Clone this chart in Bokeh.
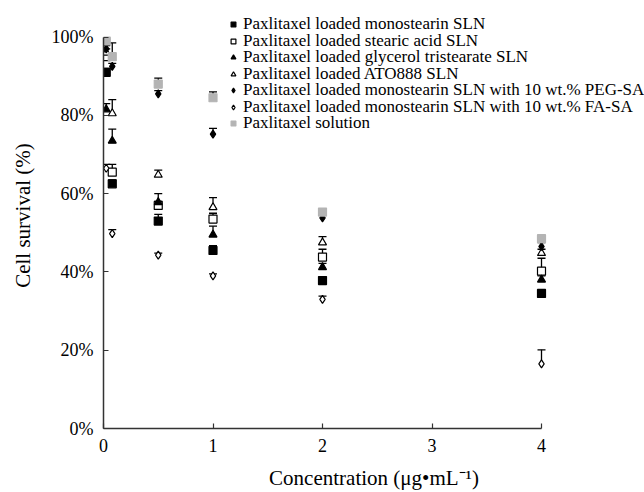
from bokeh.plotting import figure
from bokeh.models import (Range1d, FixedTicker, PrintfTickFormatter, Legend, LegendItem,
                          Whisker, TeeHead, ColumnDataSource)
from bokeh.embed import file_html
from bokeh.resources import INLINE

# ---- data ----
concentration = [0.025, 0.08, 0.5, 1, 2, 4]
x_ticks = [0, 1, 2, 3, 4]
y_ticks = [0, 20, 40, 60, 80, 100]

series_names = [
    "Paxlitaxel loaded monostearin SLN",
    "Paxlitaxel loaded stearic acid SLN",
    "Paxlitaxel loaded glycerol tristearate SLN",
    "Paxlitaxel loaded ATO888 SLN",
    "Paxlitaxel loaded monostearin SLN with 10 wt.% PEG-SA",
    "Paxlitaxel loaded monostearin SLN with 10 wt.% FA-SA",
    "Paxlitaxel solution",
]

monostearin = [91.0, 62.5, 53.0, 45.5, 37.8, 34.5]
monostearin_err = [1.0, 1.0, 1.7, 1.2, 0.8, 0.8]
stearic_acid = [95.0, 65.5, 57.0, 53.5, 43.8, 40.2]
stearic_acid_err = [1.0, 2.0, 1.0, 1.5, 2.0, 3.3]
tristearate = [81.5, 73.5, 57.8, 49.5, 41.2, 38.0]
tristearate_err = [1.5, 3.0, 2.2, 2.2, 1.0, 1.0]
ato888 = [96.0, 80.5, 64.8, 56.5, 47.5, 44.8]
ato888_err = [1.0, 3.5, 1.2, 2.5, 1.5, 1.0]
peg_sa = [97.0, 92.5, 85.5, 75.2, 53.8, 46.5]
peg_sa_err = [0.8, 0.8, 0.8, 1.5, 0.8, 1.0]
fa_sa = [66.5, 49.8, 44.3, 39.0, 33.0, 16.5]
fa_sa_err = [1.0, 1.0, 0.5, 0.5, 0.8, 3.6]
solution = [99.0, 95.0, 88.0, 84.5, 55.3, 48.5]
solution_err = [0.5, 3.5, 1.5, 1.5, 0.5, 0.5]

values = [monostearin, stearic_acid, tristearate, ato888, peg_sa, fa_sa, solution]
errors = [monostearin_err, stearic_acid_err, tristearate_err, ato888_err,
          peg_sa_err, fa_sa_err, solution_err]

# ---- styles ----
styles = [
    dict(marker="square", fill_color="black", line_color="black"),
    dict(marker="square", fill_color="white", line_color="black"),
    dict(marker="triangle", fill_color="black", line_color="black"),
    dict(marker="triangle", fill_color="white", line_color="black"),
    dict(marker="diamond", fill_color="black", line_color="black"),
    dict(marker="diamond", fill_color="white", line_color="black"),
    dict(marker="square", fill_color="#b4b4b4", line_color="#b4b4b4"),
]

FONT = "Liberation Serif"

# frame: x 103..644 px, y 2..433 px; data 0..4 -> 103..541, 0..100 -> 433..37
X_END = 541.0 / 109.5
Y_END = 431.0 / 3.96

p = figure(width=644, height=492, output_backend="svg", toolbar_location=None,
           x_range=Range1d(0, X_END), y_range=Range1d(0, Y_END),
           min_border_left=103, min_border_right=0, min_border_top=2,
           min_border_bottom=59)
p.outline_line_color = None
p.xgrid.visible = False
p.ygrid.visible = False

items = []
for vals, errs, name, st in zip(values, errors, series_names, styles):
    src = ColumnDataSource(dict(x=concentration, y=vals,
                                up=[v + e for v, e in zip(vals, errs)]))
    w = Whisker(source=src, base="x", lower="y", upper="up", dimension="height",
                line_color="black", line_width=1.3, lower_head=None,
                upper_head=TeeHead(size=8, line_color="black", line_width=1.3),
                level="underlay")
    p.add_layout(w)
    r = p.scatter("x", "y", source=src, size=8, line_width=1.2, **st)
    items.append(LegendItem(label=name, renderers=[r]))

# two interleaved legends give the tight row pitch of the reference
legend_kw = dict(padding=0, margin=0, spacing=13,
                 border_line_color=None, background_fill_alpha=0,
                 label_text_font=FONT, label_text_font_size="17px",
                 label_text_color="black",
                 glyph_width=12, glyph_height=16, label_height=16, label_standoff=4)
legend_a = Legend(items=items[0::2], location=(124, 295), **legend_kw)
legend_b = Legend(items=items[1::2], location=(124, 311), **legend_kw)
p.add_layout(legend_a)
p.add_layout(legend_b)

for ax in (p.xaxis[0], p.yaxis[0]):
    ax.axis_line_width = 1.5
    ax.axis_line_color = "#333333"
    ax.major_tick_line_color = "#333333"
    ax.major_tick_line_width = 1.2
    ax.major_tick_in = 5
    ax.major_tick_out = 0
    ax.minor_tick_line_color = None
    ax.major_label_text_font = FONT
    ax.major_label_text_font_size = "18px"
    ax.major_label_text_color = "black"
    ax.axis_label_text_font = FONT
    ax.axis_label_text_font_style = "normal"
    ax.axis_label_text_color = "black"

p.xaxis.ticker = FixedTicker(ticks=x_ticks)
p.xaxis.bounds = (0, 4)
p.xaxis.major_label_standoff = 10
p.xaxis.axis_label = "Concentration (μg•mL⁻¹)"
p.xaxis.axis_label_text_font_size = "21px"
p.xaxis.axis_label_standoff = 11

p.yaxis.ticker = FixedTicker(ticks=y_ticks)
p.yaxis.formatter = PrintfTickFormatter(format="%d%%")
p.yaxis.bounds = (0, 100)
p.yaxis.major_label_standoff = 10
p.yaxis.axis_label = "Cell survival (%)"
p.yaxis.axis_label_text_font_size = "21px"
p.yaxis.axis_label_standoff = 14

open("out.html", "w").write(file_html(p, INLINE))
